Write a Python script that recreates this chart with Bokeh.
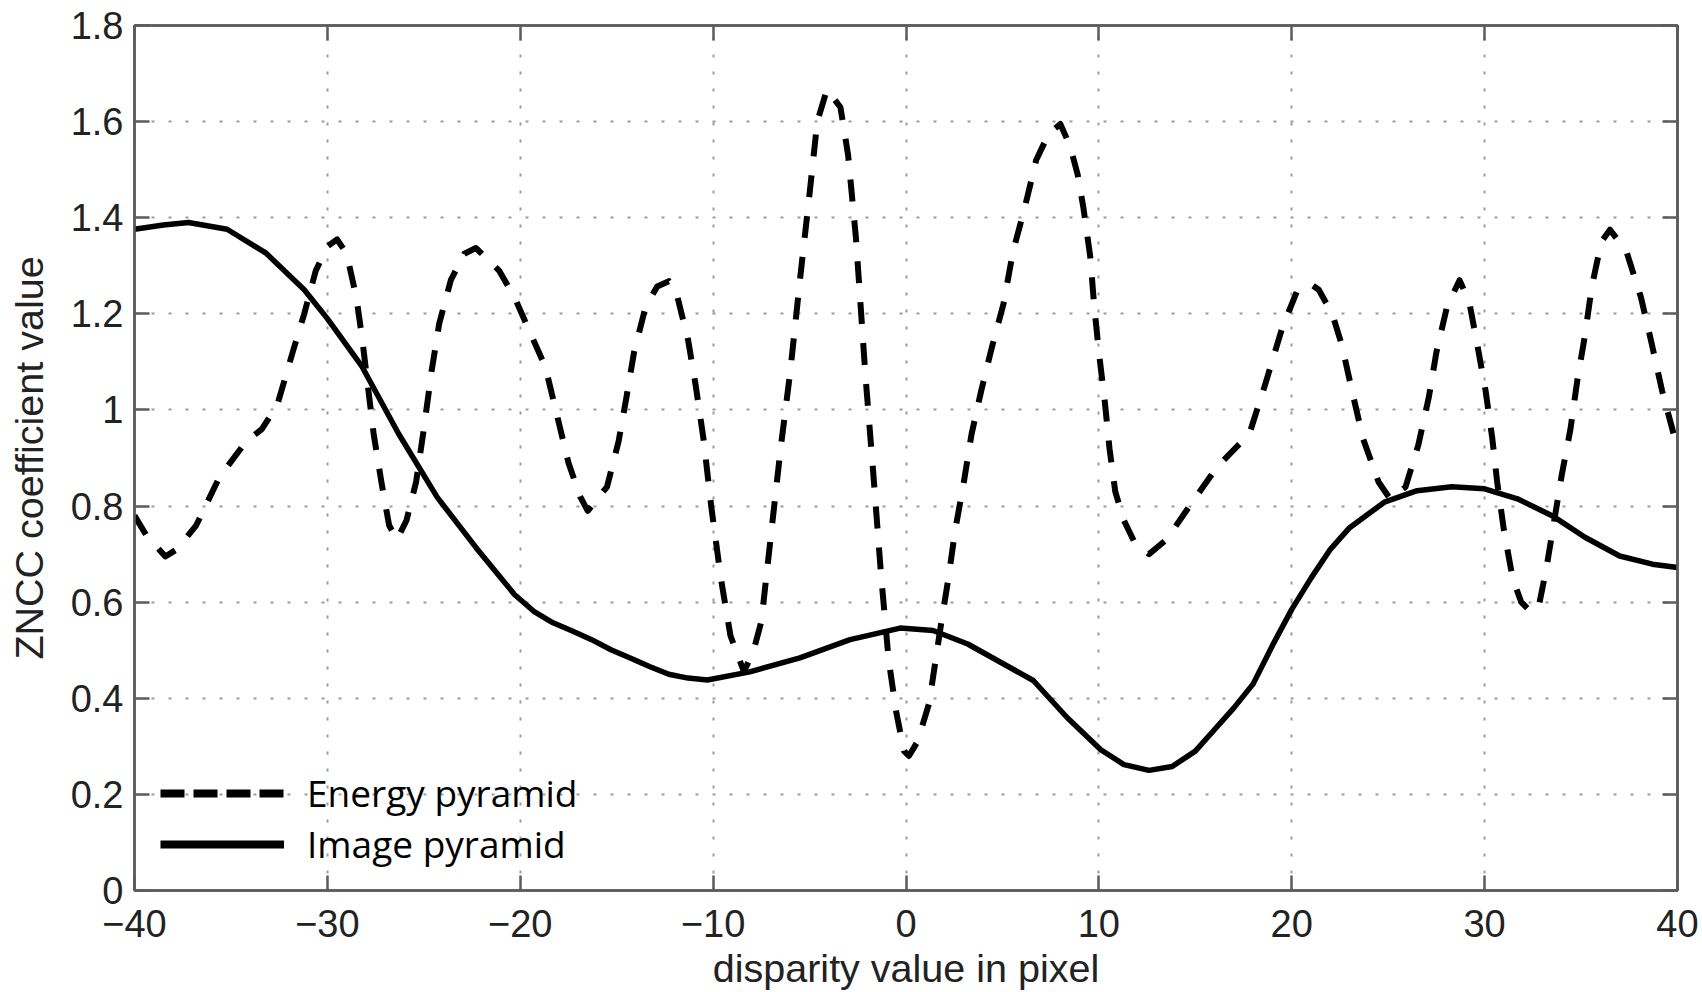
from bokeh.plotting import figure
from bokeh.models import LinearAxis, Legend, LegendItem, FixedTicker, Range1d, CustomLabelingPolicy
from bokeh.embed import file_html
from bokeh.resources import INLINE

# ---- data ----
energy_x = [-40, -39.4, -38.4, -37.8, -36.8, -35.6, -34.2, -33.4, -32.6, -31.8, -31.2, -30.6,
            -30.0, -29.5, -29.0, -28.5, -28.2, -27.9, -27.6, -27.2, -26.8, -26.4, -25.9, -25.4,
            -25.0, -24.6, -24.2, -23.6, -22.9, -22.3, -21.1, -20.3, -19.7, -18.7, -18.1, -17.5,
            -16.9, -16.5, -15.5, -14.9, -14.5, -14.1, -13.5, -12.9, -12.3, -11.9, -11.3, -10.9,
            -10.5, -10.1, -9.6, -9.1, -8.4, -7.9, -7.5, -7.0, -6.5, -6.0, -5.5, -5.0, -4.6, -4.1,
            -3.4, -3.0, -2.6, -2.1, -1.7, -1.3, -0.9, -0.5, -0.1, 0.15, 0.6, 1.2, 1.8, 2.2, 2.55,
            3.0, 3.4, 3.9, 4.45, 5.05, 5.55, 6.15, 6.75, 7.4, 8.0, 8.5, 8.9, 9.2, 9.55, 9.75, 10.0,
            10.3, 10.55, 10.85, 11.3, 11.9, 12.6, 13.5, 14.7, 16.1, 17.8, 18.6, 19.5, 20.3, 21.05,
            21.4, 22.1, 22.6, 23.15, 23.7, 24.5, 25.1, 25.9, 26.55, 27.1, 27.5, 28.05, 28.7, 29.2,
            29.6, 30.05, 30.4, 30.65, 31.0, 31.45, 31.9, 32.4, 32.8, 33.2, 34.0, 34.45, 34.8, 35.2,
            35.55, 36.05, 36.5, 37.35, 38.1, 38.65, 39.2, 39.8, 40.0]
energy_zncc = [0.78, 0.74, 0.695, 0.71, 0.76, 0.86, 0.935, 0.96, 1.01, 1.12, 1.20, 1.29,
               1.34, 1.355, 1.325, 1.235, 1.15, 1.05, 0.95, 0.85, 0.76, 0.73, 0.77, 0.85,
               0.96, 1.08, 1.18, 1.27, 1.325, 1.337, 1.29, 1.235, 1.18, 1.09, 0.99, 0.89,
               0.82, 0.79, 0.84, 0.935, 1.025, 1.12, 1.215, 1.257, 1.268, 1.243, 1.146, 1.05,
               0.94, 0.80, 0.65, 0.53, 0.455, 0.50, 0.56, 0.74, 0.92, 1.08, 1.27, 1.45, 1.6, 1.667,
               1.63, 1.53, 1.36, 1.07, 0.87, 0.66, 0.48, 0.37, 0.29, 0.28, 0.31, 0.39, 0.55, 0.65, 0.75,
               0.85, 0.95, 1.04, 1.13, 1.22, 1.33, 1.42, 1.52, 1.575, 1.595, 1.55, 1.49, 1.42, 1.32, 1.22, 1.12,
               1.02, 0.92, 0.83, 0.77, 0.72, 0.70, 0.73, 0.80, 0.88, 0.95, 1.05, 1.17, 1.25, 1.26,
               1.25, 1.2, 1.135, 1.035, 0.94, 0.85, 0.815, 0.84, 0.925, 1.025, 1.12, 1.215, 1.27, 1.225,
               1.14, 1.04, 0.94, 0.85, 0.75, 0.65, 0.60, 0.58, 0.59, 0.67, 0.865, 0.96, 1.06, 1.155,
               1.255, 1.35, 1.375, 1.33, 1.235, 1.14, 1.04, 0.95, 0.925]

image_x = [-40, -38.5, -37.2, -35.2, -33.2, -31.2, -30.0, -28.2, -26.3, -24.3, -22.3, -21.3,
           -20.3, -19.3, -18.3, -17.3, -16.3, -15.3, -14.3, -13.3, -12.3, -11.3, -10.3, -8.1,
           -5.5, -2.9, -0.3, 1.4, 3.2, 4.9, 6.6, 8.35, 10.1, 11.3, 12.6, 13.8, 15.0, 16.0, 17.0,
           18.0, 19.0, 20.0, 21.0, 22.0, 23.0, 24.8, 26.5, 28.3, 30.0, 31.7, 33.5, 35.2, 37.0,
           38.7, 40.0]
image_zncc = [1.376, 1.385, 1.39, 1.376, 1.327, 1.25, 1.19, 1.09, 0.95, 0.818, 0.714, 0.665,
              0.616, 0.581, 0.557, 0.54, 0.522, 0.501, 0.484, 0.466, 0.45, 0.442, 0.438, 0.455,
              0.484, 0.522, 0.546, 0.541, 0.513, 0.475, 0.437, 0.36, 0.293, 0.262, 0.25, 0.258, 0.29,
              0.335, 0.38, 0.43, 0.51, 0.585, 0.65, 0.71, 0.755, 0.808, 0.832, 0.84, 0.836, 0.815,
              0.78, 0.735, 0.696, 0.679, 0.672]

x_ticks = [-40, -30, -20, -10, 0, 10, 20, 30, 40]
x_tick_labels = ["\u221240", "\u221230", "\u221220", "\u221210", "0", "10", "20", "30", "40"]
y_ticks = [0, 0.2, 0.4, 0.6, 0.8, 1, 1.2, 1.4, 1.6, 1.8]
y_tick_labels = ["0", "0.2", "0.4", "0.6", "0.8", "1", "1.2", "1.4", "1.6", "1.8"]
series_names = ["Energy pyramid", "Image pyramid"]

AX = "#5c5c5c"
TXT = "#222222"
FONT = "Liberation Sans"

p = figure(width=1702, height=992, output_backend="svg", toolbar_location=None,
           x_range=Range1d(-40, 40), y_range=Range1d(0, 1.8),
           min_border_left=134, min_border_right=25, min_border_top=25, min_border_bottom=101)
p.outline_line_color = AX
p.outline_line_width = 2.5
p.background_fill_color = "white"
p.border_fill_color = "white"

xax = p.xaxis[0]
yax = p.yaxis[0]

xax.ticker = FixedTicker(ticks=x_ticks)
yax.ticker = FixedTicker(ticks=y_ticks)
xax.major_label_overrides = dict(zip(x_ticks, x_tick_labels))
yax.major_label_overrides = dict(zip(y_ticks, y_tick_labels))
xax.axis_label = "disparity value in pixel"
yax.axis_label = "ZNCC coefficient value"

hide_all = "for (const i of indices) { indices.unset(i) }\nreturn indices"
top = LinearAxis(ticker=FixedTicker(ticks=x_ticks), major_label_text_font_size="2px",
                 major_label_standoff=0, major_label_policy=CustomLabelingPolicy(code=hide_all))
right = LinearAxis(ticker=FixedTicker(ticks=y_ticks), major_label_text_font_size="2px",
                   major_label_standoff=0, major_label_policy=CustomLabelingPolicy(code=hide_all))
p.add_layout(top, "above")
p.add_layout(right, "right")

for ax in [xax, yax, top, right]:
    ax.axis_line_color = AX
    ax.axis_line_width = 2.5
    ax.major_tick_in = 15
    ax.major_tick_out = 0
    ax.major_tick_line_color = AX
    ax.major_tick_line_width = 2.5
    ax.minor_tick_line_color = None

for ax in [xax, yax]:
    ax.major_label_text_font = FONT
    ax.major_label_text_font_size = "38px"
    ax.major_label_text_color = TXT
    ax.axis_label_text_font = FONT
    ax.axis_label_text_font_size = "39.5px"
    ax.axis_label_text_font_style = "normal"
    ax.axis_label_text_color = TXT
xax.major_label_standoff = 19
xax.axis_label_standoff = 6
yax.major_label_standoff = 11
yax.axis_label_standoff = 17

for g, t in [(p.xgrid, x_ticks), (p.ygrid, y_ticks)]:
    g.ticker = FixedTicker(ticks=t)
    g.grid_line_color = "#9c9c9c"
    g.grid_line_width = 2
    g.grid_line_dash = "3 14"

r_energy = p.line(energy_x, energy_zncc, line_color="black", line_width=6,
                  line_dash="22 19", line_join="round")
r_image = p.line(image_x, image_zncc, line_color="black", line_width=5.5,
                 line_join="round", line_cap="round")

# legend keys drawn with the heavier strokes of the reference's legend
key_energy = p.line(energy_x, energy_zncc, line_color="black", line_width=8,
                    line_dash="24 9", visible=False)
key_image = p.line(image_x, image_zncc, line_color="black", line_width=8, visible=False)

legend = Legend(items=[LegendItem(label=series_names[0], renderers=[key_energy]),
                       LegendItem(label=series_names[1], renderers=[key_image])],
                location=(26, 21), glyph_width=124, glyph_height=50, label_height=50,
                label_standoff=23, spacing=0, padding=0, margin=0,
                border_line_color=None, background_fill_alpha=0,
                label_text_font="Open Sans", label_text_font_size="37px",
                label_text_color="black")
p.add_layout(legend)

open("out.html", "w").write(file_html(p, INLINE))
